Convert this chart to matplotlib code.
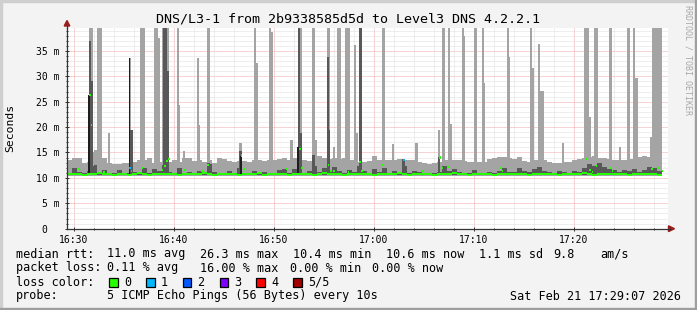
import numpy as np
import matplotlib
matplotlib.use("Agg")
import matplotlib.pyplot as plt
from matplotlib.patches import Rectangle, Polygon
from matplotlib.ticker import FixedLocator

# ---------------- data (time in minutes after 16:30) ----------------
title = "DNS/L3-1 from 2b9338585d5d to Level3 DNS 4.2.2.1"
x_major = [0, 10, 20, 30, 40, 50]
x_labels = ["16:30", "16:40", "16:50", "17:00", "17:10", "17:20"]
y_major = [0, 5, 10, 15, 20, 25, 30, 35]
y_labels = ["0  ", "5 m", "10 m", "15 m", "20 m", "25 m", "30 m", "35 m"]

block_start = -0.7      # first 30 s block
block_len = 0.5         # minutes
step_len = 1.0 / 6.0    # 10 s probe step

outer_min = 10.4
inner_min = 10.55

outer_top = [13.5, 13.9, 13.9, 13.0, 13.2, 15.0, 13.9, 13.9, 13.0, 12.7, 12.7, 12.9, 12.9, 13.2, 13.5,
             13.5, 13.9, 12.9, 13.2, 13.2, 13.2, 13.5, 13.2, 14.0, 13.9, 13.3, 13.5, 13.2, 13.5, 12.9,
             13.9, 13.7, 13.3, 13.2, 13.3, 13.4, 13.2, 13.5, 13.5, 13.4, 13.5, 13.5, 13.8, 14.0, 13.5,
             13.9, 13.6, 13.5, 13.3, 14.2, 14.3, 13.9, 13.8, 13.9, 13.8, 13.9, 13.6, 13.5, 13.2, 13.2,
             13.4, 14.4, 13.6, 13.5, 13.5, 13.5, 13.8, 13.6, 13.5, 13.5, 13.1, 12.9, 12.8, 12.9, 13.1,
             13.5, 13.5, 13.5, 13.5, 13.4, 13.2, 13.1, 13.2, 13.2, 13.8, 13.9, 14.1, 14.2, 13.9, 13.8,
             14.2, 13.3, 13.2, 13.5, 13.5, 13.5, 13.2, 13.0, 13.0, 13.2, 13.2, 13.5, 13.8, 13.9, 14.2,
             14.3, 14.0, 14.0, 13.8, 13.5, 13.5, 13.5, 13.8, 13.8, 14.2, 14.4, 14.2, 14.0, 14.0]

inner_top = [11.0, 11.9, 11.1, 10.9, 11.4, 12.3, 11.1, 11.5, 10.9, 11.0, 11.5, 11.0, 10.9, 11.2, 11.0,
             11.9, 11.0, 11.8, 11.3, 12.4, 11.1, 11.0, 12.0, 11.0, 11.2, 10.9, 11.4, 11.0, 12.8, 11.1,
             11.0, 10.9, 11.4, 10.9, 11.9, 11.0, 10.9, 11.3, 10.9, 11.2, 11.0, 10.9, 11.5, 11.7, 11.0,
             11.8, 11.5, 11.0, 11.4, 12.3, 11.1, 11.9, 11.2, 12.2, 11.4, 11.0, 11.6, 11.1, 12.4, 11.3,
             11.0, 11.8, 11.1, 12.0, 11.0, 11.3, 11.1, 12.3, 10.9, 11.4, 11.1, 10.9, 10.9, 11.0, 11.2,
             12.4, 11.3, 11.8, 11.1, 10.9, 11.0, 11.5, 10.9, 11.0, 11.2, 11.0, 11.4, 11.9, 11.1, 11.2,
             12.0, 11.3, 11.1, 11.8, 12.2, 11.4, 11.2, 11.0, 11.3, 11.1, 11.0, 11.4, 11.1, 11.9, 12.8,
             12.4, 12.9, 12.1, 11.8, 11.6, 11.2, 11.5, 11.3, 11.8, 11.1, 11.5, 12.2, 11.9, 11.3]

median_base = [10.7, 10.8, 10.7, 10.6, 10.8, 10.7, 10.9, 10.7, 10.7, 10.6, 10.7, 10.8, 10.6, 10.7, 10.9,
               10.7, 10.6, 10.8, 10.7, 10.7, 10.8, 10.7, 10.6, 10.7, 10.8, 10.7, 10.7, 10.9, 10.7, 10.6,
               10.7, 10.8, 10.7, 10.7, 10.6, 10.8, 10.7, 10.7, 10.9, 10.6, 10.7, 10.7, 10.8, 10.7, 10.6,
               10.7, 10.8, 10.7, 10.7, 10.6, 10.7, 10.9, 10.8, 10.7, 10.7, 10.6, 10.8, 10.7, 10.7, 10.8,
               10.7, 10.6, 10.7, 10.8, 10.7, 10.7, 10.9, 10.7, 10.6, 10.7, 10.8, 10.7, 10.7, 10.6, 10.7,
               10.8, 10.7, 10.9, 10.7, 10.7, 10.6, 10.7, 10.8, 10.7, 10.7, 10.6, 10.7, 10.8, 10.7, 10.7,
               10.8, 10.7, 10.6, 10.7, 10.7, 10.8, 10.7, 10.7, 10.6, 10.7, 10.8, 10.7, 10.7, 10.9, 10.7,
               10.6, 10.7, 10.8, 10.7, 10.7, 10.8, 10.7, 10.6, 10.7, 10.7, 10.8, 10.7, 10.7, 10.6]

# spikes of the smoke (start minute, width in minutes, outer top ms, inner top ms)
spike_t = [1.50, 1.67, 1.97, 2.30, 3.40, 5.50, 5.67, 6.60, 8.03, 8.37, 8.77, 8.93, 9.27, 10.27, 10.43,
           10.93, 12.27, 12.43, 13.27, 16.50, 18.00, 18.17, 19.50, 19.67, 21.60, 22.43, 22.60, 23.77,
           24.10, 25.27, 25.43, 25.90, 26.25, 27.10, 28.03, 28.20, 28.50, 30.77, 31.77, 32.80, 34.10,
           36.43, 36.77, 37.43, 37.60, 38.77, 38.93, 40.03, 40.77, 40.93, 43.27, 43.43, 45.60, 45.77,
           46.40, 46.57, 48.77, 51.03, 51.53, 52.03, 53.50, 54.50, 55.27, 55.93, 56.10, 57.60, 57.77]
spike_width = [0.2, 0.2, 0.33, 0.5, 0.2, 0.2, 0.2, 0.5, 0.35, 0.2, 0.2, 0.35, 0.25, 0.25, 0.2,
               0.2, 0.2, 0.2, 0.35, 0.33, 0.2, 0.2, 0.2, 0.2, 0.25, 0.2, 0.22, 0.35,
               0.2, 0.2, 0.2, 0.2, 0.4, 0.5, 0.2, 0.2, 0.3, 0.33, 0.25, 0.25, 0.25,
               0.2, 0.35, 0.2, 0.2, 0.2, 0.2, 0.25, 0.2, 0.2, 0.2, 0.2, 0.22, 0.2,
               0.15, 0.4, 0.25, 0.47, 0.2, 0.4, 0.3, 0.2, 0.33, 0.15, 0.25, 0.2, 1.05]
spike_top = [40, 40, 15.5, 40, 18.8, 33.5, 19.4, 40, 40, 37.5, 40, 40, 40, 40, 24.3,
             15.2, 33.5, 20.4, 40, 16.9, 40, 32.6, 40, 38.8, 17.4, 40, 40, 40,
             17.4, 40, 40, 16.1, 40, 40, 36.1, 18.8, 40, 40, 16.7, 13.8, 16.9,
             19.4, 40, 40, 20.7, 40, 38.0, 40, 40, 28.6, 40, 33.8, 40, 31.6,
             36.4, 27.1, 16.9, 40, 22.0, 40, 40, 16.0, 40, 40, 29.7, 18.1, 40]
spike_inner = [37.0, 29.0, 12.5, 0, 0, 19.4, 19.4, 0, 0, 0, 12.5, 40, 31.0, 0, 0,
               0, 0, 0, 12.9, 15.2, 0, 0, 0, 0, 0, 40, 18.8, 14.5,
               0, 33.8, 19.4, 0, 0, 0, 0, 0, 40, 0, 0, 13.8, 0,
               14.2, 0, 0, 0, 0, 0, 0, 0, 0, 0, 0, 0, 0,
               0, 0, 0, 0, 0, 0, 0, 0, 0, 0, 0, 0, 0]

# darkest smoke core
core_t = [1.42, 5.48, 16.62, 22.33]
core_top = [26.4, 33.5, 14.4, 16.0]

# step with no smoke below its lowest ping
gap_t = [1.72]
gap_bottom = [11.1]
gap_top = [19.8]

# elevated medians (start minute, value ms, loss count)
dot_t = [0.33, 1.50, 1.67, 2.93, 5.53, 5.67, 6.70, 8.77, 9.00, 9.20, 9.40, 11.03, 12.70, 13.33,
         16.67, 16.93, 21.17, 22.53, 22.70, 25.37, 25.60, 25.93, 27.37, 28.53, 28.70, 30.83, 32.93,
         34.83, 36.50, 36.70, 37.37, 42.60, 42.77, 45.67, 51.17, 51.50, 51.77, 52.17, 53.50, 53.77,
         57.70, 58.43, 58.77]
dot_v = [11.75, 26.3, 20.4, 11.2, 12.0, 11.36, 11.9, 11.55, 12.4, 13.3, 13.7, 11.55, 11.36, 12.5,
         14.4, 11.7, 11.7, 15.7, 11.9, 12.5, 11.4, 11.4, 11.2, 13.1, 11.4, 12.5, 13.5,
         11.4, 14.0, 11.9, 12.2, 11.9, 11.4, 11.9, 13.7, 11.5, 11.2, 12.4, 12.0, 11.4,
         11.7, 11.9, 11.4]
dot_loss = [0, 0, 0, 0, 1, 1, 0, 0, 0, 0, 0, 0, 0, 0,
            0, 0, 0, 0, 0, 0, 0, 0, 0, 0, 0, 0, 1,
            0, 0, 0, 0, 0, 0, 0, 0, 0, 0, 0, 0, 0,
            0, 0, 0]

loss_labels = ["0", "1", "2", "3", "4", "5/5"]
loss_colors = ["#26ff00", "#00b8ff", "#0059ff", "#7e00ff", "#ff0000", "#a10000"]

legend_rtt = ["11.0 ms avg", "26.3 ms max", "10.4 ms min", "10.6 ms now", "1.1 ms sd", "9.8", "am/s"]
legend_loss = ["0.11 % avg", "16.00 % max", "0.00 % min", "0.00 % now"]
probe_text = "5 ICMP Echo Pings (56 Bytes) every 10s"
stamp_text = "Sat Feb 21 17:29:07 2026"

# ---------------- figure ----------------
W, H = 697, 310
fig = plt.figure(figsize=(W / 100, H / 100), dpi=100)
BACK = "#f3f3f3"
fig.patch.set_facecolor(BACK)
MONO = "DejaVu Sans Mono"
LIGHT, DARK, CORE = "#a4a4a4", "#585858", "#1e1e1e"


def fx(px):
    return px / W


def fy(py):
    return 1 - py / H


ax = fig.add_axes([fx(67), fy(228.7), fx(668) - fx(67), fy(28) - fy(228.7)])
ax.set_xlim(-0.7, 59.4)
ax.set_ylim(0, 39.5)
ax.set_facecolor("#ffffff")
ax.set_axisbelow(True)

n_blocks = len(outer_top)
edges = block_start + block_len * np.arange(n_blocks + 1)
ax.stairs(outer_top, edges, baseline=np.full(n_blocks, outer_min), fill=True,
          color=LIGHT, linewidth=0, zorder=2)

st = np.array(spike_t)
sw = np.array(spike_width)
stop = np.array(spike_top, dtype=float)
sin = np.array(spike_inner, dtype=float)
ax.bar(st, stop - outer_min, bottom=outer_min, width=sw, align="edge",
       color=LIGHT, linewidth=0, zorder=3)
ax.bar(gap_t, np.array(gap_top) - np.array(gap_bottom), bottom=gap_bottom, width=step_len,
       align="edge", color="#ffffff", linewidth=0, zorder=3.5)

ax.stairs(inner_top, edges, baseline=np.full(n_blocks, inner_min), fill=True,
          color=DARK, linewidth=0, zorder=4)
m = sin > 0
ax.bar(st[m], sin[m] - inner_min, bottom=inner_min, width=sw[m], align="edge",
       color=DARK, linewidth=0, zorder=5)
ax.bar(core_t, np.array(core_top) - inner_min, bottom=inner_min, width=step_len,
       align="edge", color=CORE, linewidth=0, zorder=6)

# median markers
mb = np.array(median_base)
ax.stairs(mb + 0.22, edges, baseline=mb - 0.22, fill=True, color=loss_colors[0],
          linewidth=0, zorder=7)
dv = np.array(dot_v)
ax.bar(dot_t, 0.44, bottom=dv - 0.22, width=step_len, align="edge",
       color=[loss_colors[k] for k in dot_loss], linewidth=0, zorder=8)

# grid / ticks
ax.xaxis.set_major_locator(FixedLocator(x_major))
ax.xaxis.set_minor_locator(FixedLocator(np.arange(0, 59, 2)))
ax.yaxis.set_major_locator(FixedLocator(y_major))
ax.yaxis.set_minor_locator(FixedLocator(np.arange(1, 40, 1)))
ax.set_xticklabels(x_labels, family=MONO, fontsize=7)
ax.set_yticklabels(y_labels, family=MONO, fontsize=7)
ax.grid(which="minor", color="#dedede", linestyle=(0, (1, 1)), linewidth=0.72)
ax.grid(which="major", color="#f2a8a8", linestyle=(0, (1, 1)), linewidth=0.72)
ax.tick_params(which="major", direction="inout", length=3, width=0.72, color="#333333", pad=2.8)
ax.tick_params(which="minor", direction="inout", length=1.6, width=0.72, color="#333333")
ax.tick_params(axis="y", which="major", pad=4.0)
for s in ("top", "right"):
    ax.spines[s].set_visible(False)
for s in ("left", "bottom"):
    ax.spines[s].set_color("#333333")
    ax.spines[s].set_linewidth(0.9)
    ax.spines[s].set_zorder(10)

# axis extensions and arrows
fig.add_artist(plt.Line2D([fx(67), fx(67)], [fy(28), fy(25.5)], color="#333333", lw=0.9))
fig.add_artist(plt.Line2D([fx(668), fx(669.5)], [fy(228.7), fy(228.7)], color="#333333", lw=0.9))
fig.add_artist(Polygon([[fx(64.2), fy(26)], [fx(69.8), fy(26)], [fx(67), fy(20.5)]],
                       closed=True, color="#9b1c1c", transform=fig.transFigure))
fig.add_artist(Polygon([[fx(668.5), fy(225.8)], [fx(668.5), fy(231.6)], [fx(674.5), fy(228.7)]],
                       closed=True, color="#9b1c1c", transform=fig.transFigure))

# frame shading
fig.add_artist(Rectangle((0, 1 - 2 / H), 1, 2 / H, color="#cfcfcf", transform=fig.transFigure))
fig.add_artist(Rectangle((0, 0), 2 / W, 1, color="#cfcfcf", transform=fig.transFigure))
fig.add_artist(Rectangle((0, 0), 1, 2 / H, color="#9e9e9e", transform=fig.transFigure))
fig.add_artist(Rectangle((1 - 2 / W, 0), 2 / W, 1, color="#9e9e9e", transform=fig.transFigure))

# texts
fig.text(fx(348), fy(19), title, family=MONO, fontsize=9.6, ha="center", va="center")
fig.text(fx(10), fy(128), "Seconds", family=MONO, fontsize=8.2, rotation=90,
         ha="center", va="center")
fig.text(fx(688), fy(60), "RRDTOOL / TOBI OETIKER", family=MONO, fontsize=6,
         rotation=270, ha="center", va="center", color="#a8a8a8")

LF = 8.5
fig.text(fx(16), fy(254), "median rtt:", family=MONO, fontsize=LF, va="center")
for s, x in zip(legend_rtt, [107, 200, 293, 386, 479, 553, 600]):
    fig.text(fx(x), fy(254), s, family=MONO, fontsize=LF, va="center")
fig.text(fx(16), fy(268), "packet loss:", family=MONO, fontsize=LF, va="center")
for s, x in zip(legend_loss, [107, 200, 290, 372]):
    fig.text(fx(x), fy(268), s, family=MONO, fontsize=LF, va="center")
fig.text(fx(16), fy(282), "loss color:", family=MONO, fontsize=LF, va="center")
box_x = [109, 146, 182.5, 219.5, 256, 293]
for lab, col, bx in zip(loss_labels, loss_colors, box_x):
    fig.add_artist(Rectangle((fx(bx), fy(286.5)), 8.5 / W, 8.5 / H, facecolor=col,
                             edgecolor="#000000", linewidth=0.9, transform=fig.transFigure))
    fig.text(fx(bx + 15), fy(282), lab, family=MONO, fontsize=LF, va="center")
fig.text(fx(16), fy(296), "probe:", family=MONO, fontsize=LF, va="center")
fig.text(fx(107), fy(296), probe_text, family=MONO, fontsize=LF, va="center")
fig.text(fx(681), fy(296), stamp_text, family=MONO, fontsize=LF, va="center", ha="right")

fig.savefig("out.png", dpi=100, facecolor=BACK)
